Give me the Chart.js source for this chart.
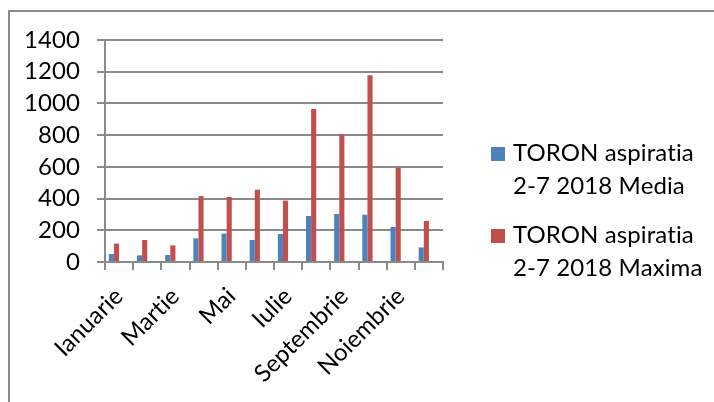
<!DOCTYPE html>
<html>
<head>
<meta charset="utf-8">
<script src="https://cdn.jsdelivr.net/npm/chart.js@4"></script>
<style>
  html, body { margin: 0; padding: 0; background: #fff; }
  #wrap { width: 714px; height: 402px; position: relative; }
</style>
</head>
<body>
<div id="wrap"><canvas id="c" width="714" height="402"></canvas></div>
<script>
const months = ["Ianuarie","Februarie","Martie","Aprilie","Mai","Iunie","Iulie","August","Septembrie","Octombrie","Noiembrie","Decembrie"];
const mediaName = "TORON aspiratia 2-7 2018 Media";
const maximaName = "TORON aspiratia 2-7 2018 Maxima";
const mediaValues = [50, 42, 44, 149, 179, 139, 177, 290, 303, 298, 221, 92];
const maximaValues = [116, 139, 105, 416, 410, 456, 387, 965, 805, 1177, 595, 259];
const yTicks = [0, 200, 400, 600, 800, 1000, 1200, 1400];

const FONT = "Lato";
const FS = 24;
const GRID = "#8a8a8a";

const noLigatures = {
  id: 'noLig',
  beforeDraw(chart) { chart.ctx.letterSpacing = "0.1px"; }
};

const legendPlugin = {
  id: 'sideLegend',
  afterDraw(chart) {
    const ctx = chart.ctx;
    ctx.save();
    // outer frame
    ctx.strokeStyle = "#8c8c8c";
    ctx.lineWidth = 2;
    ctx.beginPath();
    ctx.moveTo(9, 402);
    ctx.lineTo(9, 11);
    ctx.lineTo(714, 11);
    ctx.stroke();
    // legend
    ctx.font = FS + "px " + FONT;
    ctx.letterSpacing = "0.1px";
    ctx.textBaseline = "alphabetic";
    ctx.textAlign = "left";
    let y = 147;
    chart.data.datasets.forEach(ds => {
      if (!ds.label) return;
      ctx.fillStyle = ds.backgroundColor;
      ctx.fillRect(491, y, 14, 14);
      const words = ds.label.split(" ");
      const lines = [];
      let cur = "";
      words.forEach(w => {
        const t = cur ? cur + " " + w : w;
        if (ctx.measureText(t).width > 195 && cur) { lines.push(cur); cur = w; }
        else cur = t;
      });
      if (cur) lines.push(cur);
      ctx.fillStyle = "#000";
      lines.forEach((ln, i) => ctx.fillText(ln, 513, y + 14 + i * 33));
      y += 82;
    });
    ctx.restore();
  }
};

new Chart(document.getElementById('c'), {
  type: 'bar',
  data: {
    labels: months,
    datasets: [
      { label: mediaName, data: mediaValues, backgroundColor: "#4F81BD" },
      { label: maximaName, data: maximaValues, backgroundColor: "#C0504D" },
      { label: "", data: [], backgroundColor: "#9BBB59" },
      { label: "", data: [], backgroundColor: "#8064A2" }
    ]
  },
  options: {
    responsive: false,
    animation: false,
    devicePixelRatio: 1,
    layout: { padding: { left: 0, top: 40, right: 271, bottom: 0 } },
    datasets: { bar: { categoryPercentage: 4 / 5.5, barPercentage: 1 } },
    plugins: { legend: { display: false }, tooltip: { enabled: false } },
    scales: {
      x: {
        grid: { drawOnChartArea: false, drawTicks: true, tickLength: 8, color: GRID, lineWidth: 2 },
        border: { display: true, color: GRID, width: 2 },
        ticks: {
          autoSkip: false, minRotation: 45, maxRotation: 45, padding: 12,
          color: "#000", font: { family: FONT, size: FS },
          callback: function(v, i) { return i % 2 === 0 ? this.getLabelForValue(v) : ""; }
        },
        afterFit(s) { s.height = 140; }
      },
      y: {
        min: yTicks[0], max: yTicks[yTicks.length - 1],
        afterBuildTicks(s) { s.ticks = yTicks.map(v => ({ value: v })); },
        grid: { color: GRID, lineWidth: 2, tickLength: 8 },
        border: { display: true, color: GRID, width: 2 },
        ticks: { autoSkip: false, padding: 17, color: "#000", font: { family: FONT, size: FS },
          callback: v => String(v) },
        afterFit(s) { s.width = 105; }
      }
    }
  },
  plugins: [noLigatures, legendPlugin]
});
</script>
</body>
</html>
